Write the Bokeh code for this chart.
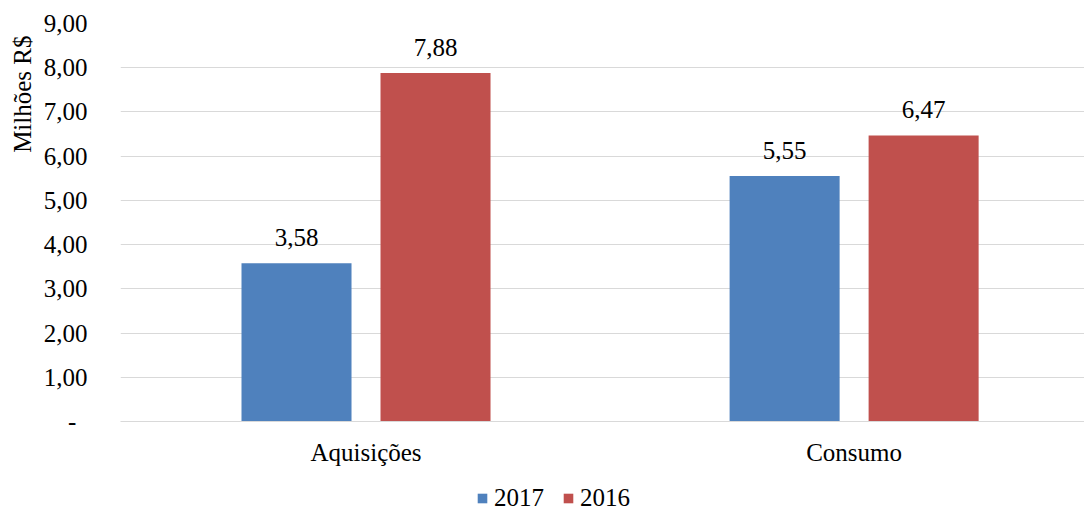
from bokeh.plotting import figure
from bokeh.layouts import column
from bokeh.models import (ColumnDataSource, Range1d, FixedTicker, Legend, LegendItem, Title)
from bokeh.transform import dodge
from bokeh.embed import file_html
from bokeh.resources import INLINE
from bokeh.core.properties import value

categories = ["Aquisições", "Consumo"]
series_2017 = [3.58, 5.55]
series_2016 = [7.88, 6.47]
labels_2017 = ["3,58", "5,55"]
labels_2016 = ["7,88", "6,47"]
y_ticks = [0, 1, 2, 3, 4, 5, 6, 7, 8, 9]
y_tick_labels = ["-\u00a0\u2009", "1,00", "2,00", "3,00", "4,00", "5,00", "6,00", "7,00", "8,00", "9,00"]
series_names = ["2017", "2016"]

BLUE = "#4F81BD"
RED = "#C0504D"
GRID = "#D9D9D9"
FONT = "Liberation Serif"
FS = "25px"

idx = list(range(len(categories)))
src = ColumnDataSource(dict(x=idx, v17=series_2017, v16=series_2016,
                            l17=labels_2017, l16=labels_2016))

W = 1084
XR = (-0.503, 1.472)
p = figure(width=W, height=468, output_backend="svg", toolbar_location=None,
           x_range=Range1d(*XR), y_range=Range1d(0, 9),
           min_border_left=120, min_border_right=0, min_border_top=23, min_border_bottom=42)
p.outline_line_color = None
p.background_fill_color = "white"
p.border_fill_color = "white"

off = 0.1424
bw = 0.2254
r17 = p.vbar(x=dodge("x", -off), top="v17", width=bw, source=src, fill_color=BLUE, line_color=None)
r16 = p.vbar(x=dodge("x", off), top="v16", width=bw, source=src, fill_color=RED, line_color=None)

for col, top, lab in ((-off, "v17", "l17"), (off, "v16", "l16")):
    p.text(x=dodge("x", col), y=top, text=lab, source=src,
           text_font=value(FONT), text_font_size=FS, text_align="center",
           text_baseline="alphabetic", y_offset=-26, text_color="#000000")

# axes
p.xaxis.ticker = FixedTicker(ticks=idx)
p.xaxis.major_label_overrides = {i: c for i, c in zip(idx, categories)}
p.xaxis.major_tick_line_color = None
p.xaxis.minor_tick_line_color = None
p.xaxis.axis_line_color = GRID
p.xaxis.major_label_text_font = FONT
p.xaxis.major_label_text_font_size = FS
p.xaxis.major_label_text_color = "#000000"
p.xaxis.major_label_standoff = 11

p.yaxis.ticker = FixedTicker(ticks=y_ticks)
p.yaxis.major_label_overrides = {t: l for t, l in zip(y_ticks, y_tick_labels)}
p.yaxis.major_tick_line_color = None
p.yaxis.minor_tick_line_color = None
p.yaxis.axis_line_color = None
p.yaxis.major_label_text_font = FONT
p.yaxis.major_label_text_font_size = FS
p.yaxis.major_label_text_color = "#000000"
p.yaxis.major_label_standoff = 27

p.xgrid.grid_line_color = None
p.ygrid.grid_line_color = GRID
p.ygrid.grid_line_width = 1

t = Title(text="Milhões R$", align="right", text_font=FONT, text_font_size=FS,
          text_font_style="normal", text_color="#000000", offset=12, standoff=10)
p.add_layout(t, "left")

# legend strip below the chart (same frame geometry as the chart)
lg = figure(width=W, height=44, output_backend="svg", toolbar_location=None,
            x_range=Range1d(*XR), y_range=Range1d(100, 101),
            min_border_left=120, min_border_right=0, min_border_top=0, min_border_bottom=0)
lg.axis.visible = False
lg.grid.visible = False
lg.outline_line_color = None
# same data, lying far outside this strip's y range: only their legend swatches show
d17 = lg.vbar(x=dodge("x", -off), top="v17", width=bw, source=src, fill_color=BLUE, line_color=None)
d16 = lg.vbar(x=dodge("x", off), top="v16", width=bw, source=src, fill_color=RED, line_color=None)
legend = Legend(items=[LegendItem(label=series_names[0], renderers=[d17]),
                       LegendItem(label=series_names[1], renderers=[d16])],
                location=(356, 0), orientation="horizontal",
                glyph_width=12, glyph_height=12, label_standoff=6, spacing=18,
                padding=0, margin=0, border_line_color=None, background_fill_alpha=0,
                label_text_font=FONT, label_text_font_size=FS, label_text_color="#000000")
lg.add_layout(legend, "center")

open("out.html", "w").write(file_html(column(p, lg), INLINE))
